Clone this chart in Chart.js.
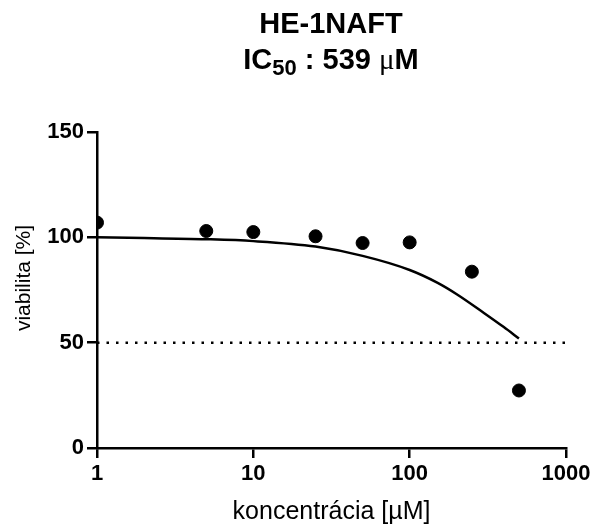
<!DOCTYPE html>
<html><head><meta charset="utf-8">
<script src="https://cdn.jsdelivr.net/npm/chart.js@4"></script>
<style>
html,body{margin:0;padding:0;background:#fff;}
#wrap{position:relative;width:596px;height:528px;overflow:hidden;}
#title{position:absolute;left:131px;top:5px;width:400px;text-align:center;font-family:"Liberation Sans",Arial,sans-serif;font-weight:bold;font-size:29px;line-height:36px;color:#000;white-space:nowrap;}
#title sub{font-size:22px;vertical-align:-6px;line-height:0;}
#title .mu{font-family:"Liberation Serif","DejaVu Serif",serif;font-weight:normal;}
#ytitle{position:absolute;left:-77.5px;top:265px;width:200px;height:26px;line-height:26px;text-align:center;font-family:"Liberation Sans",Arial,sans-serif;font-size:21px;color:#000;transform:rotate(-90deg);white-space:nowrap;}
canvas{position:absolute;left:0;top:0;}
</style></head>
<body>
<div id="wrap">
<canvas id="c" width="596" height="528"></canvas>
<div id="title">HE-1NAFT<br>IC<sub>50</sub> : 539 <span class="mu">μ</span>M</div>
<div id="ytitle">viabilita [%]</div>
</div>
<script>
const concentrations = [1, 5, 10, 25, 50, 100, 250, 500];
const viability = [107, 103, 102.5, 100.5, 97.3, 97.6, 83.7, 27.3];
const curveX = [1, 2, 5, 10, 25, 50, 100, 150, 200, 300, 400, 500];
const curveY = [100, 99.7, 99.1, 98.2, 95.6, 91.2, 84.5, 78.5, 73, 64, 57.4, 52];
const refX = [1, 1000];
const refY = [50, 50];
const xTicks = [1, 10, 100, 1000];
const yTicks = [0, 50, 100, 150];

const font = "'Liberation Sans', Arial, sans-serif";
new Chart(document.getElementById('c'), {
  type: 'scatter',
  data: {
    datasets: [
      {
        type: 'line',
        data: curveX.map((x, i) => ({x, y: curveY[i]})),
        borderColor: '#000', borderWidth: 2.5, pointRadius: 0,
        cubicInterpolationMode: 'monotone', fill: false
      },
      {
        type: 'line',
        data: refX.map((x, i) => ({x, y: refY[i]})),
        borderColor: '#000', borderWidth: 2.5, pointRadius: 0,
        borderDash: [2.5, 7], fill: false
      },
      {
        data: concentrations.map((x, i) => ({x, y: viability[i]})),
        backgroundColor: '#000', borderColor: '#000', pointRadius: 6.5, pointHoverRadius: 6.5
      }
    ]
  },
  options: {
    animation: false,
    responsive: false,
    events: [],
    layout: {padding: {top: 132, right: 30, left: 0, bottom: 0}},
    plugins: {legend: {display: false}, tooltip: {enabled: false}, title: {display: false}},
    scales: {
      x: {
        type: 'logarithmic', min: 1, max: 1000,
        afterBuildTicks: s => { s.ticks = xTicks.map(v => ({value: v})); },
        afterFit: s => { s.height = 80; },
        ticks: {color: '#000', font: {family: font, size: 22, weight: 'bold'}, padding: 3, autoSkip: false, maxRotation: 0,
          callback: v => String(v)},
        grid: {drawOnChartArea: false, drawTicks: true, tickLength: 10, color: '#000', lineWidth: 2.5},
        border: {color: '#000', width: 2.5},
        title: {display: true, text: 'koncentrácia [µM]', color: '#000', font: {family: font, size: 25}, padding: {top: 0, bottom: 1}}
      },
      y: {
        min: 0, max: 150,
        afterBuildTicks: s => { s.ticks = yTicks.map(v => ({value: v})); },
        afterFit: s => { s.width = 97; },
        ticks: {color: '#000', font: {family: font, size: 22, weight: 'bold'}, padding: 3},
        grid: {drawOnChartArea: false, drawTicks: true, tickLength: 10, color: '#000', lineWidth: 2.5},
        border: {color: '#000', width: 2.5},
        title: {display: false}
      }
    }
  }
});
</script>
</body></html>
